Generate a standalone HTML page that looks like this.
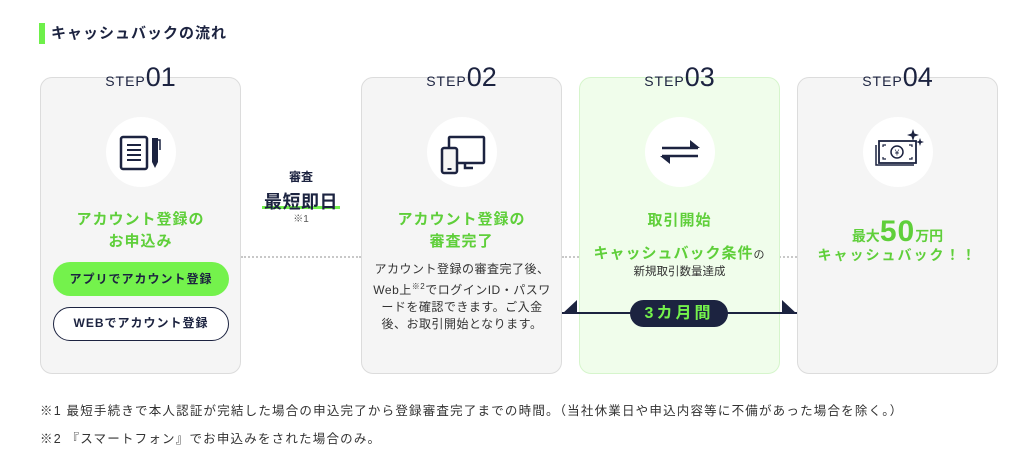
<!DOCTYPE html>
<html><head><meta charset="utf-8"><style>
*{margin:0;padding:0;box-sizing:border-box}
body{width:1024px;height:468px;background:#fff;position:relative;overflow:hidden;font-family:"Liberation Sans","Noto Sans CJK JP",sans-serif;color:#1c2340}
.a{position:absolute}
.card{position:absolute;top:77px;height:297px;width:201px;background:#f5f5f5;border:1.5px solid #dcdcdc;border-radius:12px}
.step{position:absolute;top:62px;width:201px;text-align:center;color:#1c2340;white-space:nowrap}
.step .s{font-size:14px;letter-spacing:1px}
.step .n{font-size:27px;font-weight:500;letter-spacing:0px}
.circ{position:absolute;width:70px;height:70px;border-radius:50%;background:#fff;left:65px;top:39px}
.gt{position:absolute;width:100%;text-align:center;color:#5fcf3a;font-size:15px;font-weight:bold;line-height:22px;letter-spacing:1px}
.dash{position:absolute;top:256px;height:0;border-top:2px dotted #c8c8c8}
.btn{position:absolute;left:12px;width:176px;height:34px;border-radius:17px;text-align:center;line-height:34px;font-size:12px;font-weight:bold;letter-spacing:1px}
</style></head><body>
<div class="a" style="left:39px;top:23px;width:6px;height:21px;background:#6ef04a"></div>
<div class="a" style="left:51px;top:22px;font-size:15px;font-weight:bold;letter-spacing:1px">キャッシュバックの流れ</div>

<div class="dash" style="left:241px;width:120px"></div>
<div class="dash" style="left:562px;width:17px"></div>
<div class="dash" style="left:779px;width:18px"></div>

<!-- card1 -->
<div class="card" style="left:40px">
 <div class="circ">
  <svg width="70" height="70" viewBox="0 0 70 70"><rect x="15" y="20" width="26" height="32" rx="2" fill="none" stroke="#1c2340" stroke-width="2.5"/><path d="M21 28h14M21 33h14M21 38h14M21 43h14" stroke="#1c2340" stroke-width="2"/><path d="M46 21h6v24l-3 6-3-6z" fill="#1c2340"/><path d="M52 23h2v10" stroke="#1c2340" stroke-width="1.5" fill="none"/></svg>
 </div>
 <div class="gt" style="top:131px">アカウント登録の<br>お申込み</div>
 <div class="btn" style="top:184px;background:#74f24c;color:#1c2340">アプリでアカウント登録</div>
 <div class="btn" style="top:229px;background:#fff;border:1.5px solid #1c2340;line-height:31px">WEBでアカウント登録</div>
</div>
<div class="step" style="left:40px"><span class="s">STEP</span><span class="n">01</span></div>

<div class="a" style="left:241px;width:120px;top:168px;text-align:center;font-size:12px;font-weight:bold">審査</div>
<div class="a" style="left:262px;width:78px;height:3px;top:206px;background:#74f24c"></div>
<div class="a" style="left:241px;width:120px;top:188px;text-align:center;font-size:18px;font-weight:bold;letter-spacing:0.5px">最短即日</div>
<div class="a" style="left:241px;width:120px;top:210px;text-align:center;font-size:10px;color:#555">※1</div>

<!-- card2 -->
<div class="card" style="left:361px">
 <div class="circ">
  <svg width="70" height="70" viewBox="0 0 70 70"><rect x="22" y="20" width="35" height="26" rx="1" fill="none" stroke="#1c2340" stroke-width="2.5"/><path d="M38 46v5h8" stroke="#1c2340" stroke-width="2.5" fill="none"/><rect x="15" y="31" width="15" height="25" rx="2" fill="#f5f5f5" stroke="#1c2340" stroke-width="2.5"/><rect x="20.5" y="51" width="4" height="2" fill="#1c2340"/></svg>
 </div>
 <div class="gt" style="top:131px">アカウント登録の<br>審査完了</div>
 <div class="a" style="top:183px;left:10px;width:180px;text-align:center;font-size:12px;line-height:17px;color:#333;letter-spacing:0.5px">アカウント登録の審査完了後、Web上<sup style="font-size:8px">※2</sup>でログインID・パスワードを確認できます。ご入金後、お取引開始となります。</div>
</div>
<div class="step" style="left:361px"><span class="s">STEP</span><span class="n">02</span></div>

<!-- card3 -->
<div class="card" style="left:579px;background:#f0fdeb;border-color:#d6f5cc">
 <div class="circ">
  <svg width="70" height="70" viewBox="0 0 70 70"><path d="M17 31h36" stroke="#1c2340" stroke-width="2.5"/><path d="M45 23l10 8h-10z" fill="#1c2340"/><path d="M17 39h36" stroke="#1c2340" stroke-width="2.5"/><path d="M25 47l-10-8h10z" fill="#1c2340"/></svg>
 </div>
 <div class="gt" style="top:132px">取引開始</div>
 <div class="gt" style="top:165px;font-size:15px">キャッシュバック条件<span style="font-size:11px;color:#333;font-weight:normal">の</span></div>
 <div class="a" style="top:185px;width:100%;text-align:center;font-size:11.5px;color:#333">新規取引数量達成</div>
</div>
<div class="step" style="left:579px"><span class="s">STEP</span><span class="n">03</span></div>

<div class="a" style="left:562px;top:312px;width:235px;height:2px;background:#1c2340"></div>
<svg class="a" style="left:562px;top:298px" width="235" height="16"><path d="M0 16L15 2V16z" fill="#1c2340"/><path d="M235 16L220 2V16z" fill="#1c2340"/></svg>
<div class="a" style="left:630px;top:300px;width:98px;height:27px;border-radius:14px;background:#1c2340;color:#74f24c;text-align:center;line-height:27px;font-size:16px;font-weight:bold;letter-spacing:3px">3カ月間</div>

<!-- card4 -->
<div class="card" style="left:797px">
 <div class="circ">
  <svg width="70" height="70" viewBox="0 0 70 70"><path d="M13 28v20h38" fill="none" stroke="#1c2340" stroke-width="1.5"/><rect x="16" y="24" width="37" height="22" fill="#fff" stroke="#1c2340" stroke-width="1.8"/><circle cx="34" cy="35" r="6" fill="none" stroke="#1c2340" stroke-width="1.5"/><text x="34" y="38.5" font-size="8" text-anchor="middle" fill="#1c2340">¥</text><path d="M20 30v-2h3M20 40v2h3M49 30v-2h-3M49 40v2h-3" stroke="#1c2340" fill="none" stroke-width="1.2"/><path d="M50 12l1.5 4.5 4.5 1.5-4.5 1.5-1.5 4.5-1.5-4.5-4.5-1.5 4.5-1.5z" fill="#1c2340"/><path d="M57 21l1 3 3 1-3 1-1 3-1-3-3-1 3-1z" fill="#1c2340"/></svg>
 </div>
 <div class="a" style="top:137px;width:100%;text-align:center;color:#5fcf3a;font-weight:bold;font-size:14px">最大<span style="font-size:30px;letter-spacing:1px">50</span>万円</div>
 <div class="gt" style="top:166px;font-size:14px;letter-spacing:2px">キャッシュバック！！</div>
</div>
<div class="step" style="left:797px"><span class="s">STEP</span><span class="n">04</span></div>

<div class="a" style="left:40px;top:400px;font-size:12.5px;color:#333;letter-spacing:1.2px;white-space:nowrap">※1 最短手続きで本人認証が完結した場合の申込完了から登録審査完了までの時間。（当社休業日や申込内容等に不備があった場合を除く。）</div>
<div class="a" style="left:40px;top:428px;font-size:12.5px;color:#333;letter-spacing:1.2px;white-space:nowrap">※2 『スマートフォン』でお申込みをされた場合のみ。</div>
</body></html>
